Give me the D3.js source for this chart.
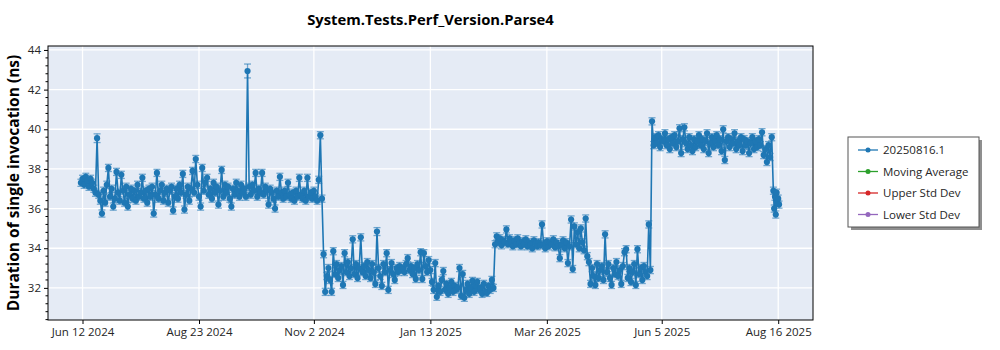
<!DOCTYPE html>
<html>
<head>
<meta charset="utf-8">
<script src="https://cdn.jsdelivr.net/npm/d3@7"></script>
<style>
  html, body { margin: 0; padding: 0; background: #ffffff; }
  svg { display: block; font-family: "Open Sans", "Noto Sans", sans-serif; }
</style>
</head>
<body>
<svg id="chart" width="1000" height="350"></svg>
<script>
// Benchmark runs, one array per stretch of builds (values in ns).
const runsFromJun2024 = [
  37.3, 37.5, 37.2, 37.6, 37.4, 37.1, 37.5, 37.3, 37.0, 36.8,
  39.55, 36.7, 36.4, 35.75, 36.9, 36.3, 37.2, 38.05, 36.6, 37.0,
  36.1, 36.5, 37.85, 36.8, 36.4, 37.7, 36.9, 36.3, 37.1, 36.1,
  36.7, 37.0, 36.5, 36.9, 36.4, 37.2, 36.6, 36.8, 37.55, 36.5,
  36.9, 36.3, 37.0, 36.6, 37.1, 35.75, 36.7, 37.8, 36.5, 36.9,
  37.2, 36.4, 36.8, 37.0, 36.3, 36.9, 37.1, 35.9, 36.6, 37.0,
  36.5, 37.2, 36.8, 37.75, 35.95, 36.7, 37.1, 36.4, 37.0, 37.9,
  36.8, 38.5, 37.2, 36.6, 36.1, 38.05, 36.9, 37.3, 37.55, 36.7,
  37.0, 36.5, 37.3, 36.8, 37.1, 36.2, 36.9, 37.95, 36.6, 37.2,
  36.8, 37.1, 36.5, 36.1, 37.0, 36.7, 37.3, 36.9, 36.6, 37.2,
  36.8, 37.0, 36.6, 42.94, 37.1, 36.7, 37.2, 36.9, 37.8, 36.6,
  37.0, 36.8, 37.8, 36.7, 37.1, 36.9, 36.2, 37.0, 36.8, 36.5,
  36.0, 36.9, 36.6, 37.6, 36.8, 36.5, 36.9, 36.6, 37.3, 36.7,
  36.5, 36.8, 36.4, 36.9, 36.6, 37.55, 36.7, 36.5, 36.9, 36.4,
  37.55, 36.6, 36.8, 36.5, 36.9, 36.6, 36.4, 37.45, 39.7, 36.5
];
const runsFromNov2024 = [
  33.7, 31.8, 32.6, 33.0, 32.4, 31.8, 33.85, 32.7, 33.2, 32.5,
  32.9, 33.1, 32.15, 33.75, 32.8, 33.3, 32.6, 33.0, 34.45, 32.7,
  33.2, 32.5, 33.0, 34.55, 32.8, 33.1, 32.6, 33.3, 32.9, 32.5,
  33.2, 32.8, 32.2, 34.84, 33.0, 32.6, 32.1, 33.2, 32.8, 33.75,
  31.9, 32.9, 33.25, 32.7, 32.4, 33.0, 32.8, 33.1, 32.9, 33.0,
  32.8, 33.2, 33.5, 32.9, 33.1, 32.7, 33.0, 32.45, 33.2, 32.9,
  33.8, 32.45, 33.75, 33.1, 32.8, 33.4, 32.9
];
const runsFromJan2025 = [
  32.3, 31.9, 33.25, 31.55, 32.1, 31.8, 32.4, 32.85, 31.9, 32.2,
  31.7, 32.0, 32.3, 31.8, 32.1, 31.9, 32.0, 33.0, 31.6, 32.7,
  31.5, 31.9, 32.2, 31.7, 32.0, 32.35, 31.8, 32.1, 32.3, 31.9,
  32.0, 31.7, 32.2, 31.8, 31.75, 32.1, 31.9, 32.4, 32.0
];
const runsFromFeb2025 = [
  34.2, 34.6, 34.3, 34.5, 34.15, 34.4, 34.3, 34.95, 34.2, 34.5,
  34.3, 34.1, 34.4, 34.2, 34.5, 34.25, 34.1, 34.35, 34.2, 34.45,
  34.1, 34.3, 34.2, 34.0, 34.4, 34.25, 34.1, 34.3, 34.15, 35.2,
  34.2, 34.0, 34.35, 34.1, 34.3, 34.2, 34.45, 34.05, 34.3, 34.1,
  33.5, 34.2, 34.4, 34.0, 34.3, 33.25, 34.1, 35.45, 32.95, 35.1,
  34.2, 34.8, 34.0, 35.0, 34.3, 33.9, 35.5
];
const runsFromApr2025 = [
  33.6, 33.3, 32.2, 33.0, 32.6, 32.15, 33.2, 32.5, 32.9, 33.1,
  32.4, 34.7, 32.8, 33.2, 32.5, 32.15, 33.0, 32.7, 33.3, 32.6,
  32.9, 32.2, 33.1, 33.8, 33.95, 32.5, 33.0, 32.3, 32.8, 33.2,
  32.15, 33.95, 32.7, 33.0, 32.4, 33.1, 32.8, 32.6, 35.2, 32.9
];
const runsFromMay2025 = [
  40.4, 39.2, 39.6, 39.3, 39.7, 39.1, 39.5, 39.4, 39.8, 39.2,
  39.5, 39.0, 39.6, 39.3, 39.7, 39.1, 39.4, 40.05, 38.8, 39.5,
  40.1, 39.3, 39.0, 39.6, 39.2, 38.9, 39.5, 39.1, 39.4, 39.7,
  39.2, 39.5, 39.0, 39.4, 39.8, 38.8, 39.3, 39.6, 39.1, 39.4,
  39.7, 39.2, 39.5, 38.9, 40.0, 38.45, 39.4, 39.6, 39.1, 39.5,
  39.3, 39.8, 39.0, 39.4, 39.2, 39.6, 38.9, 39.5, 39.2, 39.4,
  38.8, 39.3, 39.6, 39.0, 39.4, 39.1, 39.5, 39.2, 39.85, 38.7,
  39.0, 38.35, 39.2, 38.6, 39.6
];
const runsFromAug2025 = [36.9, 36.0, 36.6, 35.7, 36.8, 36.3, 36.5, 36.2];

// First build date and spacing (hours) of each stretch above.
const stretchStarts = ["2024-06-11", "2024-11-08", "2025-01-14", "2025-02-22", "2025-04-20", "2025-05-30", "2025-08-13"];
const stretchStepHours = [24, 24, 24, 24, 24, 24, 12];
const stretchValues = [runsFromJun2024, runsFromNov2024, runsFromJan2025, runsFromFeb2025, runsFromApr2025, runsFromMay2025, runsFromAug2025];

// Half-width of the error bar for each run; a few runs were noisier.
const defaultSpread = 0.18;
const noisyRunDates = ["2024-06-21", "2024-09-22", "2024-12-11"];
const noisyRunSpreads = [0.22, 0.35, 0.2];

const xTickDates = ["2024-06-12", "2024-08-23", "2024-11-02", "2025-01-13", "2025-03-26", "2025-06-05", "2025-08-16"];
const xTickLabels = ["Jun 12 2024", "Aug 23 2024", "Nov 2 2024", "Jan 13 2025", "Mar 26 2025", "Jun 5 2025", "Aug 16 2025"];
const yTickValues = [32, 34, 36, 38, 40, 42, 44];

const legendLabels = ["20250816.1", "Moving Average", "Upper Std Dev", "Lower Std Dev"];
const legendColors = ["#1f77b4", "#2ca02c", "#d62728", "#9467bd"];

const parseDay = d3.utcParse("%Y-%m-%d");

// Assemble the run list.
const runs = [];
stretchValues.forEach((vals, s) => {
  const start = parseDay(stretchStarts[s]);
  vals.forEach((v, i) => {
    runs.push({ date: d3.utcHour.offset(start, i * stretchStepHours[s]), value: v });
  });
});
const noisyLookup = new Map(noisyRunDates.map((d, i) => [+parseDay(d), noisyRunSpreads[i]]));
runs.forEach(r => { r.spread = noisyLookup.has(+r.date) ? noisyLookup.get(+r.date) : defaultSpread; });

const svg = d3.select("#chart");
const plot = { left: 48, right: 813, top: 46, bottom: 320 };

const x = d3.scaleUtc()
  .domain([new Date(Date.UTC(2024, 4, 21, 16)), new Date(Date.UTC(2025, 8, 6, 12))])
  .range([plot.left, plot.right]);
const y = d3.scaleLinear()
  .domain([30.38, 44.2])
  .range([plot.bottom, plot.top]);

// Plot background
svg.append("rect")
  .attr("x", plot.left).attr("y", plot.top)
  .attr("width", plot.right - plot.left).attr("height", plot.bottom - plot.top)
  .attr("fill", "#e5ebf5");

const xTicks = xTickDates.map(parseDay);

// Grid
const grid = svg.append("g").attr("stroke", "#ffffff").attr("stroke-width", 1.3);
grid.selectAll("line.gx").data(xTicks).join("line")
  .attr("x1", d => x(d)).attr("x2", d => x(d))
  .attr("y1", plot.top).attr("y2", plot.bottom);
grid.selectAll("line.gy").data(yTickValues).join("line")
  .attr("x1", plot.left).attr("x2", plot.right)
  .attr("y1", d => y(d)).attr("y2", d => y(d));

svg.append("clipPath").attr("id", "plot-clip")
  .append("rect").attr("x", plot.left).attr("y", plot.top)
  .attr("width", plot.right - plot.left).attr("height", plot.bottom - plot.top);

const series = svg.append("g").attr("clip-path", "url(#plot-clip)");
const blue = "#1f77b4";

series.append("path")
  .datum(runs)
  .attr("fill", "none")
  .attr("stroke", blue)
  .attr("stroke-width", 1.6)
  .attr("d", d3.line().x(d => x(d.date)).y(d => y(d.value)));

// Error bars
const bars = series.append("g").attr("stroke", blue).attr("stroke-opacity", 0.6).attr("stroke-width", 1.3);
bars.selectAll("line.v").data(runs).join("line")
  .attr("x1", d => x(d.date)).attr("x2", d => x(d.date))
  .attr("y1", d => y(d.value + d.spread)).attr("y2", d => y(d.value - d.spread));
bars.selectAll("line.t").data(runs).join("line")
  .attr("x1", d => x(d.date) - 3.5).attr("x2", d => x(d.date) + 3.5)
  .attr("y1", d => y(d.value + d.spread)).attr("y2", d => y(d.value + d.spread));
bars.selectAll("line.b").data(runs).join("line")
  .attr("x1", d => x(d.date) - 3.5).attr("x2", d => x(d.date) + 3.5)
  .attr("y1", d => y(d.value - d.spread)).attr("y2", d => y(d.value - d.spread));

series.append("g").selectAll("circle").data(runs).join("circle")
  .attr("cx", d => x(d.date)).attr("cy", d => y(d.value))
  .attr("r", 3.1).attr("fill", blue);

// Frame
svg.append("rect")
  .attr("x", plot.left).attr("y", plot.top)
  .attr("width", plot.right - plot.left).attr("height", plot.bottom - plot.top)
  .attr("fill", "none").attr("stroke", "#000000").attr("stroke-width", 1);

// Y axis with minor ticks every 0.4
const yAxis = d3.axisLeft(y).tickValues(yTickValues).tickSize(4).tickPadding(3).tickFormat(d3.format("d"));
const gy = svg.append("g").attr("transform", `translate(${plot.left},0)`).call(yAxis);
gy.select(".domain").remove();
const minorY = d3.range(30.4, 44.2, 0.4).filter(v => Math.abs(v / 2 - Math.round(v / 2)) > 0.01);
svg.append("g").selectAll("line").data(minorY).join("line")
  .attr("x1", plot.left - 2.5).attr("x2", plot.left)
  .attr("y1", d => y(d)).attr("y2", d => y(d))
  .attr("stroke", "#000000");

// X axis
const xAxis = d3.axisBottom(x).tickValues(xTicks).tickSize(4).tickPadding(4)
  .tickFormat((d, i) => xTickLabels[i]);
const gx = svg.append("g").attr("transform", `translate(0,${plot.bottom})`).call(xAxis);
gx.select(".domain").remove();

svg.selectAll(".tick text").attr("font-family", "'Open Sans', 'Noto Sans', sans-serif")
  .attr("font-size", 11.5).attr("fill", "#262626");

// Titles
svg.append("text")
  .attr("x", (plot.left + plot.right) / 2).attr("y", 25)
  .attr("text-anchor", "middle")
  .attr("font-size", 14.8).attr("font-weight", "bold").attr("fill", "#000000")
  .text("System.Tests.Perf_Version.Parse4");

svg.append("text")
  .attr("transform", `translate(19,${(plot.top + plot.bottom) / 2}) rotate(-90)`)
  .attr("text-anchor", "middle")
  .attr("font-size", 15.5).attr("font-weight", "bold").attr("fill", "#000000")
  .text("Duration of single invocation (ns)");

// Legend
const legend = svg.append("g").attr("transform", "translate(848,137)");
legend.append("rect").attr("x", 3).attr("y", 3).attr("width", 131).attr("height", 90).attr("fill", "#8f8f8f");
legend.append("rect").attr("x", 0).attr("y", 0).attr("width", 131).attr("height", 90)
  .attr("fill", "#ffffff").attr("stroke", "#555555").attr("stroke-width", 1);
const rows = legend.selectAll("g.row").data(legendLabels).join("g")
  .attr("transform", (d, i) => `translate(0,${13 + i * 21.5})`);
rows.append("line").attr("x1", 10).attr("x2", 30).attr("y1", 0).attr("y2", 0)
  .attr("stroke", (d, i) => legendColors[i]).attr("stroke-width", 1.3);
rows.append("circle").attr("cx", 20).attr("cy", 0).attr("r", 2.5)
  .attr("fill", (d, i) => legendColors[i]);
rows.append("text").attr("x", 35).attr("y", 0).attr("dy", "0.35em")
  .attr("font-size", 11.5).attr("fill", "#262626").text(d => d);
</script>
</body>
</html>
